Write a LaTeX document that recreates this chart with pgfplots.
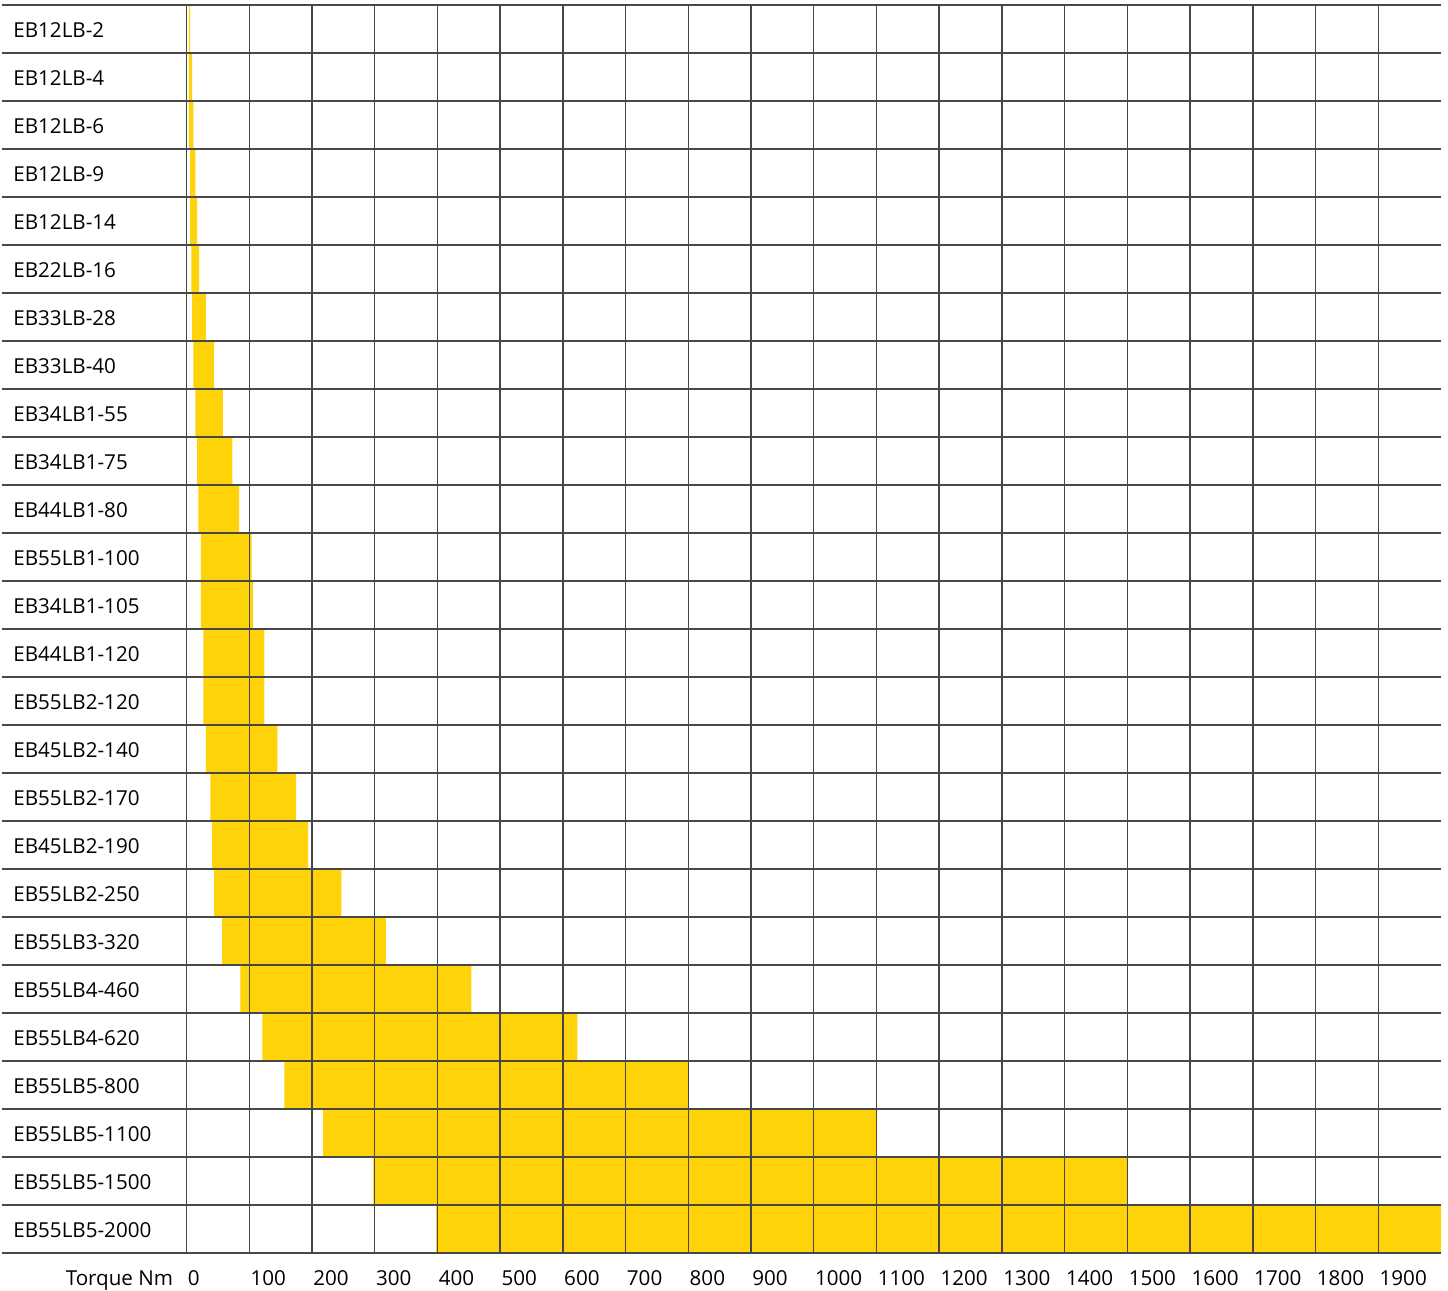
\documentclass[border=0pt]{standalone}
\usepackage{fontspec}
\setmainfont{Open Sans}
\usepackage{pgfplots}
\usepackage{pgfplotstable}
\pgfplotsset{compat=1.18}

\definecolor{brakeYellow}{RGB}{254,211,9}

% row, lowest torque (bar start), span of the bar (Nm)
\pgfplotstableread{
row start len
0   4    2
1   4    5
2   4    7
3   6    8
4   6    11
5   8    12
6   9    22
7   11   33
8   14   44
9   17   56
10  19   65
11  23   81
12  23   83
13  27   97
14  27   97
15  31   114
16  38   137
17  41   153
18  44   203
19  57   261
20  86   368
21  121  502
22  156  644
23  218  883
24  298  1202
25  398  1602
}\torquedata

\begin{document}
\begin{tikzpicture}
\begin{axis}[
  width=719.5pt, height=624pt, scale only axis,
  xmin=-294.1, xmax=2000,
  ymin=-0.5, ymax=25.5, y dir=reverse,
  axis line style={draw=none},
  xbar stacked, bar width=24pt,
  xtick={0,100,...,1900},
  xticklabels={0,100,200,300,400,500,600,700,800,900,1000,1100,1200,1300,1400,1500,1600,1700,1800,1900},
  xmajorgrids,
  ytick={0,...,25},
  yticklabels={EB12LB-2,EB12LB-4,EB12LB-6,EB12LB-9,EB12LB-14,EB22LB-16,EB33LB-28,EB33LB-40,EB34LB1-55,EB34LB1-75,EB44LB1-80,EB55LB1-100,EB34LB1-105,EB44LB1-120,EB55LB2-120,EB45LB2-140,EB55LB2-170,EB45LB2-190,EB55LB2-250,EB55LB3-320,EB55LB4-460,EB55LB4-620,EB55LB5-800,EB55LB5-1100,EB55LB5-1500,EB55LB5-2000},
  minor ytick={-0.5,0.5,...,25.5},
  yminorgrids, ymajorgrids=false,
  major tick length=0pt, minor tick length=0pt,
  grid style={black!72, line width=0.7pt},
  minor grid style={black!72, line width=0.7pt},
  axis on top,
  tick label style={font=\fontsize{10.3}{12}\selectfont},
  yticklabel style={anchor=west, inner sep=0pt, xshift=5.5pt, yshift=-0.5pt},
  xticklabel style={anchor=base west, inner sep=0pt, yshift=-16pt, xshift=0.5pt},
  clip=false,
]
\addplot[draw=none, fill=none, forget plot] table[x=start, y=row] {\torquedata};
\addplot[draw=none, fill=brakeYellow] table[x=len, y=row] {\torquedata};
\node[anchor=base east, inner sep=0pt, font=\fontsize{10.3}{12}\selectfont,
      xshift=-6.5pt, yshift=-16pt] at (axis cs:0,25.5) {Torque Nm};
\end{axis}
\path ([xshift=-1pt,yshift=2.5pt]current axis.north west)
  rectangle ([xshift=3.5pt,yshift=-19pt]current axis.south east);
\end{tikzpicture}
\end{document}
